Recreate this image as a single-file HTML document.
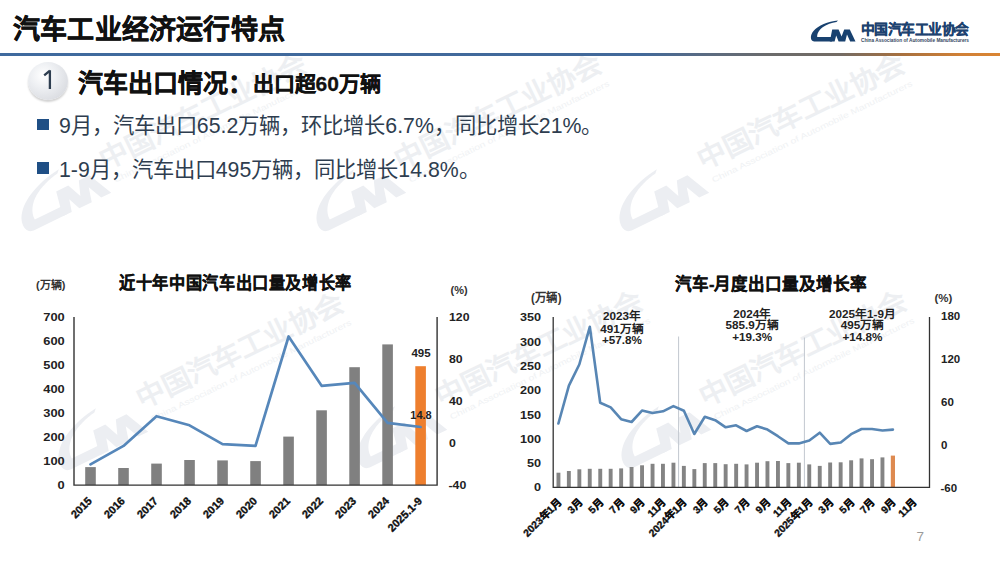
<!DOCTYPE html>
<html lang="zh-CN"><head><meta charset="utf-8">
<style>
html,body{margin:0;padding:0;background:#fff;}
body{width:1000px;height:562px;position:relative;overflow:hidden;font-family:"Liberation Sans",sans-serif;}
.a{position:absolute;white-space:nowrap;}
#title{left:13px;top:7.5px;font-size:27px;font-weight:bold;color:#111;letter-spacing:0.2px;-webkit-text-stroke:0.5px #111;}
#hline{left:0;top:52.5px;width:1000px;height:3px;background:linear-gradient(90deg,#3F6A9E 0%,#42699A 64%,#5C6B80 71%,#6B6B6B 77%,#736B64 84%,#A6703F 90%,#D08036 96%,#DA8533 100%);}
#circ{left:28px;top:62px;width:40px;height:38px;border-radius:50%;background:radial-gradient(circle at 38% 35%,#ffffff 0%,#eef0f3 35%,#d9dbe0 80%,#cfd1d6 100%);box-shadow:0 2px 2px rgba(0,0,0,0.18);}
#circ span{position:absolute;left:0;width:40px;top:4px;text-align:center;font-size:27px;color:#2E3F52;}
#sub1{left:78px;top:63px;font-size:25px;font-weight:bold;color:#111;-webkit-text-stroke:0.4px #111;}
#sub2{left:252.5px;top:67px;font-size:21px;font-weight:bold;color:#111;-webkit-text-stroke:0.3px #111;}
.bul{width:11.8px;height:11.8px;background:#1F4F85;}
.btxt{font-size:21.3px;color:#2E3D4F;}
</style></head><body>

<svg class="a" style="left:0;top:0" width="1000" height="562" viewBox="0 0 1000 562" font-family="Liberation Sans, sans-serif"><g transform="translate(113,155) rotate(-26)">
<g transform="translate(-112,-11) scale(2.1) translate(-810.8,-20.5)" fill="#ECEEF2"><path d="M838,20.5 C828,21.5 818,25.5 813.5,31 C810.5,34.5 810.3,38.5 812,40.5 C812.8,41.3 814,41.5 815,41.5 L832,41.5 L833,37 L817.2,37 C817,33 819.5,29.5 823,27 C827,24.3 831.5,22.8 836.5,22 Z"/><path d="M829.8,41.5 L832.2,29.5 L838.6,29.5 L841.6,36.5 L844.2,29.5 L849.8,29.5 L855.5,41.5 L850.2,41.5 L847,34.5 L845.2,41.5 L838.6,41.5 L836.2,35.5 L834.6,41.5 Z"/></g>
<text x="-13.5" y="10" font-size="27.5" font-weight="bold" fill="#EDEFF2" textLength="226" lengthAdjust="spacingAndGlyphs">中国汽车工业协会</text>
<text x="-10" y="26" font-size="8" fill="#F0F2F4" textLength="222" lengthAdjust="spacingAndGlyphs">China Association of Automobile Manufacturers</text>
</g><g transform="translate(408,155) rotate(-26)">
<g transform="translate(-112,-11) scale(2.1) translate(-810.8,-20.5)" fill="#ECEEF2"><path d="M838,20.5 C828,21.5 818,25.5 813.5,31 C810.5,34.5 810.3,38.5 812,40.5 C812.8,41.3 814,41.5 815,41.5 L832,41.5 L833,37 L817.2,37 C817,33 819.5,29.5 823,27 C827,24.3 831.5,22.8 836.5,22 Z"/><path d="M829.8,41.5 L832.2,29.5 L838.6,29.5 L841.6,36.5 L844.2,29.5 L849.8,29.5 L855.5,41.5 L850.2,41.5 L847,34.5 L845.2,41.5 L838.6,41.5 L836.2,35.5 L834.6,41.5 Z"/></g>
<text x="-13.5" y="10" font-size="27.5" font-weight="bold" fill="#EDEFF2" textLength="226" lengthAdjust="spacingAndGlyphs">中国汽车工业协会</text>
<text x="-10" y="26" font-size="8" fill="#F0F2F4" textLength="222" lengthAdjust="spacingAndGlyphs">China Association of Automobile Manufacturers</text>
</g><g transform="translate(711,155) rotate(-26)">
<g transform="translate(-112,-11) scale(2.1) translate(-810.8,-20.5)" fill="#ECEEF2"><path d="M838,20.5 C828,21.5 818,25.5 813.5,31 C810.5,34.5 810.3,38.5 812,40.5 C812.8,41.3 814,41.5 815,41.5 L832,41.5 L833,37 L817.2,37 C817,33 819.5,29.5 823,27 C827,24.3 831.5,22.8 836.5,22 Z"/><path d="M829.8,41.5 L832.2,29.5 L838.6,29.5 L841.6,36.5 L844.2,29.5 L849.8,29.5 L855.5,41.5 L850.2,41.5 L847,34.5 L845.2,41.5 L838.6,41.5 L836.2,35.5 L834.6,41.5 Z"/></g>
<text x="-13.5" y="10" font-size="27.5" font-weight="bold" fill="#EDEFF2" textLength="226" lengthAdjust="spacingAndGlyphs">中国汽车工业协会</text>
<text x="-10" y="26" font-size="8" fill="#F0F2F4" textLength="222" lengthAdjust="spacingAndGlyphs">China Association of Automobile Manufacturers</text>
</g><g transform="translate(150,394) rotate(-26)">
<g transform="translate(-112,-11) scale(2.1) translate(-810.8,-20.5)" fill="#ECEEF2"><path d="M838,20.5 C828,21.5 818,25.5 813.5,31 C810.5,34.5 810.3,38.5 812,40.5 C812.8,41.3 814,41.5 815,41.5 L832,41.5 L833,37 L817.2,37 C817,33 819.5,29.5 823,27 C827,24.3 831.5,22.8 836.5,22 Z"/><path d="M829.8,41.5 L832.2,29.5 L838.6,29.5 L841.6,36.5 L844.2,29.5 L849.8,29.5 L855.5,41.5 L850.2,41.5 L847,34.5 L845.2,41.5 L838.6,41.5 L836.2,35.5 L834.6,41.5 Z"/></g>
<text x="-13.5" y="10" font-size="27.5" font-weight="bold" fill="#EDEFF2" textLength="226" lengthAdjust="spacingAndGlyphs">中国汽车工业协会</text>
<text x="-10" y="26" font-size="8" fill="#F0F2F4" textLength="222" lengthAdjust="spacingAndGlyphs">China Association of Automobile Manufacturers</text>
</g><g transform="translate(449,392) rotate(-26)">
<g transform="translate(-112,-11) scale(2.1) translate(-810.8,-20.5)" fill="#ECEEF2"><path d="M838,20.5 C828,21.5 818,25.5 813.5,31 C810.5,34.5 810.3,38.5 812,40.5 C812.8,41.3 814,41.5 815,41.5 L832,41.5 L833,37 L817.2,37 C817,33 819.5,29.5 823,27 C827,24.3 831.5,22.8 836.5,22 Z"/><path d="M829.8,41.5 L832.2,29.5 L838.6,29.5 L841.6,36.5 L844.2,29.5 L849.8,29.5 L855.5,41.5 L850.2,41.5 L847,34.5 L845.2,41.5 L838.6,41.5 L836.2,35.5 L834.6,41.5 Z"/></g>
<text x="-13.5" y="10" font-size="27.5" font-weight="bold" fill="#EDEFF2" textLength="226" lengthAdjust="spacingAndGlyphs">中国汽车工业协会</text>
<text x="-10" y="26" font-size="8" fill="#F0F2F4" textLength="222" lengthAdjust="spacingAndGlyphs">China Association of Automobile Manufacturers</text>
</g><g transform="translate(713,392) rotate(-26)">
<g transform="translate(-112,-11) scale(2.1) translate(-810.8,-20.5)" fill="#ECEEF2"><path d="M838,20.5 C828,21.5 818,25.5 813.5,31 C810.5,34.5 810.3,38.5 812,40.5 C812.8,41.3 814,41.5 815,41.5 L832,41.5 L833,37 L817.2,37 C817,33 819.5,29.5 823,27 C827,24.3 831.5,22.8 836.5,22 Z"/><path d="M829.8,41.5 L832.2,29.5 L838.6,29.5 L841.6,36.5 L844.2,29.5 L849.8,29.5 L855.5,41.5 L850.2,41.5 L847,34.5 L845.2,41.5 L838.6,41.5 L836.2,35.5 L834.6,41.5 Z"/></g>
<text x="-13.5" y="10" font-size="27.5" font-weight="bold" fill="#EDEFF2" textLength="226" lengthAdjust="spacingAndGlyphs">中国汽车工业协会</text>
<text x="-10" y="26" font-size="8" fill="#F0F2F4" textLength="222" lengthAdjust="spacingAndGlyphs">China Association of Automobile Manufacturers</text>
</g></svg>
<div class="a" id="title">汽车工业经济运行特点</div>
<div class="a" id="hline"></div>

<!-- logo -->
<svg class="a" style="left:0;top:0" width="1000" height="60" viewBox="0 0 1000 60">
  <path d="M838,20.5 C828,21.5 818,25.5 813.5,31 C810.5,34.5 810.3,38.5 812,40.5 C812.8,41.3 814,41.5 815,41.5 L832,41.5 L833,37 L817.2,37 C817,33 819.5,29.5 823,27 C827,24.3 831.5,22.8 836.5,22 Z" fill="#18416F"/>
  <path d="M829.8,41.5 L832.2,29.5 L838.6,29.5 L841.6,36.5 L844.2,29.5 L849.8,29.5 L855.5,41.5 L850.2,41.5 L847,34.5 L845.2,41.5 L838.6,41.5 L836.2,35.5 L834.6,41.5 Z" fill="#18416F"/>
  <text x="861" y="33.6" font-size="13.4" font-weight="bold" fill="#1D4270" stroke="#1D4270" stroke-width="0.3" textLength="107.4" lengthAdjust="spacingAndGlyphs">中国汽车工业协会</text>
  <text x="861" y="42" font-size="4.8" font-weight="bold" fill="#34465f" textLength="108" lengthAdjust="spacingAndGlyphs">China Association of Automobile Manufacturers</text>
</svg>

<div class="a" id="circ"></div>
<svg class="a" style="left:0;top:0" width="100" height="100"><path d="M44.2,75.4 L49.9,70.6 M49.9,70.2 V89" stroke="#2E3E50" stroke-width="2.3" fill="none"/></svg>
<div class="a" id="sub1">汽车出口情况：</div>
<div class="a" id="sub2">出口超60万辆</div>

<div class="a bul" style="left:37.2px;top:118.6px"></div>
<div class="a btxt" style="left:59px;top:108px">9月，汽车出口65.2万辆，环比增长6.7%，同比增长21%。</div>
<div class="a bul" style="left:37.2px;top:162.4px"></div>
<div class="a btxt" style="left:59px;top:152px">1-9月，汽车出口495万辆，同比增长14.8%。</div>

<!-- CHARTS -->
<svg class="a" style="left:0;top:0" width="1000" height="562" viewBox="0 0 1000 562" font-family="Liberation Sans, sans-serif">
<g id="left">
<text x="119" y="289" font-size="16.5" font-weight="bold" fill="#111" stroke="#111" stroke-width="0.35" textLength="233" lengthAdjust="spacingAndGlyphs">近十年中国汽车出口量及增长率</text>
<text x="36" y="289" font-size="11" font-weight="bold" fill="#333">(万辆)</text>
<text x="450.5" y="294" font-size="11" font-weight="bold" fill="#333">(%)</text>
<g font-size="11.5" font-weight="bold" fill="#222" text-anchor="end" transform="translate(63.6,0) scale(1.12,1) translate(-63.6,0)">
<text x="64.6" y="321">700</text><text x="64.6" y="345">600</text><text x="64.6" y="369">500</text><text x="64.6" y="393">400</text><text x="64.6" y="417">300</text><text x="64.6" y="441">200</text><text x="64.6" y="465">100</text><text x="64.6" y="489">0</text>
</g>
<g font-size="11.5" font-weight="bold" fill="#222" text-anchor="start" transform="translate(449,0) scale(1.07,1) translate(-449,0)">
<text x="449" y="321">120</text><text x="449" y="363">80</text><text x="449" y="405">40</text><text x="449" y="447">0</text><text x="448.5" y="489">-40</text>
</g>
<rect x="85.20" y="467.1" width="10.6" height="17.9" fill="#808080"/>
<rect x="118.21" y="468.0" width="10.6" height="17.0" fill="#808080"/>
<rect x="151.22" y="463.6" width="10.6" height="21.4" fill="#808080"/>
<rect x="184.23" y="460.0" width="10.6" height="25.0" fill="#808080"/>
<rect x="217.24" y="460.4" width="10.6" height="24.6" fill="#808080"/>
<rect x="250.25" y="461.1" width="10.6" height="23.9" fill="#808080"/>
<rect x="283.26" y="436.6" width="10.6" height="48.4" fill="#808080"/>
<rect x="316.27" y="410.3" width="10.6" height="74.7" fill="#808080"/>
<rect x="349.28" y="367.2" width="10.6" height="117.8" fill="#808080"/>
<rect x="382.29" y="344.4" width="10.6" height="140.6" fill="#808080"/>
<rect x="415.30" y="366.2" width="10.6" height="118.8" fill="#EE7F2E"/>
<polyline points="90.5,464.4 123.5,445.9 156.5,416.2 189.5,425.3 222.5,444.1 255.5,445.9 288.6,336.5 321.6,385.8 354.6,382.9 387.6,422.8 420.6,427.0" fill="none" stroke="#5687BA" stroke-width="2.7" stroke-linejoin="round" stroke-linecap="round"/>
<path d="M74.0,317 V485.1 H437.1 V317" fill="none" stroke="#333" stroke-width="1.4"/>
<text x="421" y="356.5" font-size="11.5" font-weight="bold" fill="#222" text-anchor="middle">495</text>
<text x="421" y="418.5" font-size="11" font-weight="bold" fill="#222" text-anchor="middle">14.8</text>

<g font-size="11" font-weight="bold" fill="#111" stroke="#111" stroke-width="0.35" text-anchor="end"><text transform="translate(92.7,501.7) rotate(-45)">2015</text><text transform="translate(125.7,501.7) rotate(-45)">2016</text><text transform="translate(158.7,501.7) rotate(-45)">2017</text><text transform="translate(191.8,501.7) rotate(-45)">2018</text><text transform="translate(224.8,501.7) rotate(-45)">2019</text><text transform="translate(257.8,501.7) rotate(-45)">2020</text><text transform="translate(290.8,501.7) rotate(-45)">2021</text><text transform="translate(323.8,501.7) rotate(-45)">2022</text><text transform="translate(356.9,501.7) rotate(-45)">2023</text><text transform="translate(389.9,501.7) rotate(-45)">2024</text><text transform="translate(422.9,501.7) rotate(-45)">2025.1-9</text></g>
</g>
<g id="right">
<text x="675" y="289.5" font-size="16.5" font-weight="bold" fill="#111" stroke="#111" stroke-width="0.35">汽车-月度出口量及增长率</text>
<text x="531" y="302" font-size="12" font-weight="bold" fill="#333" textLength="30.5" lengthAdjust="spacingAndGlyphs">(万辆)</text>
<text x="934.5" y="301.5" font-size="11.5" font-weight="bold" fill="#333">(%)</text>
<g font-size="11.5" font-weight="bold" fill="#222" text-anchor="end" transform="translate(540,0) scale(1.1,1) translate(-540,0)">
<text x="541" y="321.5">350</text>
<text x="541" y="345.8">300</text>
<text x="541" y="370.1">250</text>
<text x="541" y="394.4">200</text>
<text x="541" y="418.6">150</text>
<text x="541" y="442.9">100</text>
<text x="541" y="467.2">50</text>
<text x="541" y="491.5">0</text>
</g>
<g font-size="11.5" font-weight="bold" fill="#222" text-anchor="start">
<text x="941" y="319.9">180</text>
<text x="941" y="362.8">120</text>
<text x="941" y="405.7">60</text>
<text x="941" y="448.6">0</text>
<text x="940.5" y="491.5">-60</text>
</g>
<line x1="678.6" y1="336.5" x2="678.6" y2="487" stroke="#C2C7CF" stroke-width="1"/>
<line x1="804.4" y1="337.5" x2="804.4" y2="487" stroke="#C2C7CF" stroke-width="1"/>
<rect x="556.5" y="472.7" width="3.9" height="14.6" fill="#848484"/>
<rect x="566.9" y="471.0" width="3.9" height="16.3" fill="#848484"/>
<rect x="577.4" y="469.3" width="3.9" height="18.0" fill="#848484"/>
<rect x="587.8" y="468.8" width="3.9" height="18.5" fill="#848484"/>
<rect x="598.3" y="468.8" width="3.9" height="18.5" fill="#848484"/>
<rect x="608.7" y="468.8" width="3.9" height="18.5" fill="#848484"/>
<rect x="619.2" y="468.4" width="3.9" height="18.9" fill="#848484"/>
<rect x="629.6" y="467.0" width="3.9" height="20.3" fill="#848484"/>
<rect x="640.1" y="465.3" width="3.9" height="22.0" fill="#848484"/>
<rect x="650.6" y="463.8" width="3.9" height="23.5" fill="#848484"/>
<rect x="661.0" y="463.8" width="3.9" height="23.5" fill="#848484"/>
<rect x="671.5" y="462.7" width="3.9" height="24.6" fill="#848484"/>
<rect x="681.9" y="465.9" width="3.9" height="21.4" fill="#848484"/>
<rect x="692.4" y="469.1" width="3.9" height="18.2" fill="#848484"/>
<rect x="702.8" y="463.1" width="3.9" height="24.2" fill="#848484"/>
<rect x="713.3" y="463.1" width="3.9" height="24.2" fill="#848484"/>
<rect x="723.7" y="464.2" width="3.9" height="23.1" fill="#848484"/>
<rect x="734.2" y="463.8" width="3.9" height="23.5" fill="#848484"/>
<rect x="744.6" y="464.4" width="3.9" height="22.9" fill="#848484"/>
<rect x="755.1" y="462.7" width="3.9" height="24.6" fill="#848484"/>
<rect x="765.5" y="461.2" width="3.9" height="26.1" fill="#848484"/>
<rect x="776.0" y="461.0" width="3.9" height="26.3" fill="#848484"/>
<rect x="786.4" y="463.1" width="3.9" height="24.2" fill="#848484"/>
<rect x="796.9" y="462.7" width="3.9" height="24.6" fill="#848484"/>
<rect x="807.3" y="464.4" width="3.9" height="22.9" fill="#848484"/>
<rect x="817.8" y="465.9" width="3.9" height="21.4" fill="#848484"/>
<rect x="828.2" y="462.5" width="3.9" height="24.8" fill="#848484"/>
<rect x="838.7" y="462.3" width="3.9" height="25.0" fill="#848484"/>
<rect x="849.2" y="460.3" width="3.9" height="27.0" fill="#848484"/>
<rect x="859.6" y="458.4" width="3.9" height="28.9" fill="#848484"/>
<rect x="870.1" y="459.2" width="3.9" height="28.1" fill="#848484"/>
<rect x="880.5" y="457.4" width="3.9" height="29.9" fill="#848484"/>
<rect x="890.8" y="455.6" width="4.2" height="31.7" fill="#DE8A50"/>
<polyline points="558.4,423.5 568.9,385.6 579.3,364.5 589.8,326.8 600.2,402.8 610.7,407.4 621.1,419.2 631.6,422.0 642.0,410.6 652.5,413.0 663.0,411.3 673.4,406.1 683.9,410.7 694.3,434.0 704.8,416.8 715.2,420.2 725.7,427.3 736.1,425.3 746.6,431.0 757.0,426.2 767.5,429.6 777.9,436.2 788.4,443.4 798.8,443.4 809.3,440.5 819.7,432.7 830.2,443.9 840.7,442.5 851.1,434.2 861.6,429.0 872.0,429.0 882.5,430.5 892.9,429.6" fill="none" stroke="#5886B4" stroke-width="2.6" stroke-linejoin="round" stroke-linecap="round"/>
<path d="M553.2,317 V487.3 H929.5 V317" fill="none" stroke="#333" stroke-width="1.3"/>
<g font-size="11.7" fill="#222" text-anchor="middle" font-weight="bold">
<text x="622" y="320.3">2023年</text>
<text x="622" y="332.5">491万辆</text>
<text x="622" y="344.4">+57.8%</text>
<text x="752.2" y="317.6">2024年</text>
<text x="752.2" y="329.3">585.9万辆</text>
<text x="752.2" y="341">+19.3%</text>
<text x="862.5" y="317.6">2025年1-9月</text>
<text x="862.5" y="329.3">495万辆</text>
<text x="862.5" y="341">+14.8%</text>
</g>
<g font-size="10.3" font-weight="bold" fill="#111" stroke="#111" stroke-width="0.35" text-anchor="end"><text transform="translate(561.9,503) rotate(-45)">2023年1月</text><text transform="translate(582.8,503) rotate(-45)">3月</text><text transform="translate(603.7,503) rotate(-45)">5月</text><text transform="translate(624.6,503) rotate(-45)">7月</text><text transform="translate(645.5,503) rotate(-45)">9月</text><text transform="translate(666.5,503) rotate(-45)">11月</text><text transform="translate(687.4,503) rotate(-45)">2024年1月</text><text transform="translate(708.3,503) rotate(-45)">3月</text><text transform="translate(729.2,503) rotate(-45)">5月</text><text transform="translate(750.1,503) rotate(-45)">7月</text><text transform="translate(771.0,503) rotate(-45)">9月</text><text transform="translate(791.9,503) rotate(-45)">11月</text><text transform="translate(812.8,503) rotate(-45)">2025年1月</text><text transform="translate(833.7,503) rotate(-45)">3月</text><text transform="translate(854.6,503) rotate(-45)">5月</text><text transform="translate(875.5,503) rotate(-45)">7月</text><text transform="translate(896.4,503) rotate(-45)">9月</text><text transform="translate(917.3,503) rotate(-45)">11月</text></g>
</g>
</svg>

<div class="a" style="left:916.5px;top:529px;font-size:13.5px;color:#9a9a9a">7</div>
</body></html>
